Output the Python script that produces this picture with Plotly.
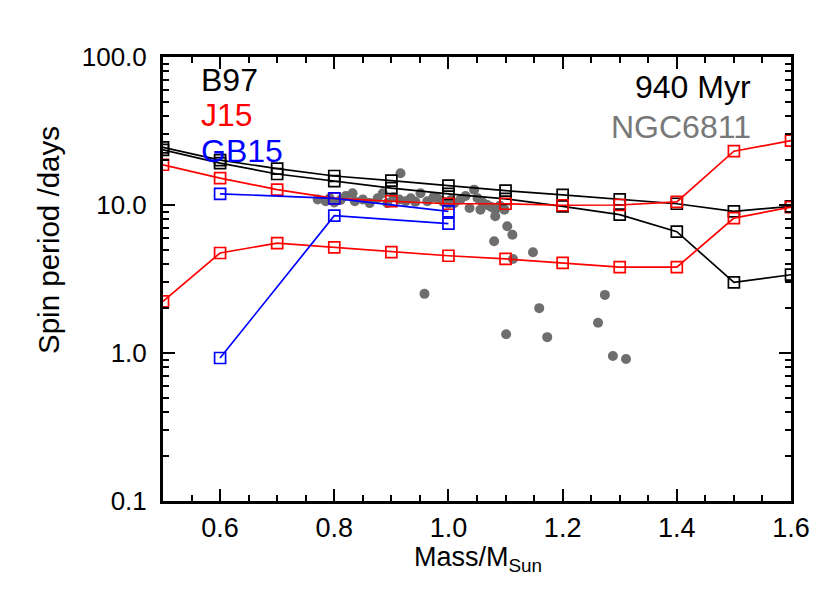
import plotly.graph_objects as go

# ---------------- data ----------------
mass_grid = [0.5, 0.6, 0.7, 0.8, 0.9, 1.0, 1.1, 1.2, 1.3, 1.4, 1.5, 1.6]
b97_upper = [24.5, 20.1, 17.6, 15.7, 14.6, 13.5, 12.5, 11.7, 10.9, 10.2, 9.06, 9.8]
b97_lower = [23.6, 19.2, 16.2, 14.5, 13.0, 11.9, 11.0, 9.8, 8.6, 6.6, 3.0, 3.38]
j15_upper = [18.7, 15.2, 12.7, 11.1, 10.6, 10.2, 10.2, 9.96, 10.0, 10.5, 23.1, 27.2]
j15_lower = [2.23, 4.74, 5.53, 5.17, 4.81, 4.54, 4.32, 4.06, 3.80, 3.80, 8.16, 9.68]
gb15_mass = [0.6, 0.8, 1.0]
gb15_upper = [11.9, 11.1, 9.06]
gb15_lower = [0.925, 8.47, 7.48]

ngc_mass = [0.771, 0.785, 0.792, 0.800, 0.811, 0.820, 0.832, 0.836, 0.850, 0.862,
            0.876, 0.885, 0.893, 0.904, 0.914, 0.916, 0.925, 0.934, 0.942, 0.951,
            0.963, 0.974, 0.981, 0.991, 1.000, 1.004, 1.010, 1.021, 1.030, 1.037,
            1.045, 1.051, 1.056, 1.060, 1.068, 1.075, 1.082, 1.082, 1.090, 1.098,
            1.103, 1.112, 1.080, 1.113, 1.148, 0.958, 1.159, 1.274, 1.101, 1.173,
            1.262, 1.288, 1.311]
ngc_period = [10.9, 10.6, 11.1, 10.4, 10.8, 11.5, 12.0, 10.6, 10.9, 10.3,
              11.1, 12.0, 10.3, 11.3, 10.9, 16.4, 10.6, 11.1, 10.5, 12.0,
              10.6, 11.3, 11.1, 10.5, 10.2, 10.8, 10.3, 10.9, 11.5, 9.55,
              12.7, 11.1, 9.3, 10.4, 10.0, 9.7, 9.3, 8.4, 9.9, 9.3,
              7.18, 6.3, 5.69, 4.32, 4.79, 2.51, 2.01, 2.47, 1.34, 1.28,
              1.60, 0.955, 0.91]

y_tickvals = [0.1, 1, 10, 100]
y_ticktext = ["0.1", "1.0", "10.0", "100.0"]
x_tickvals = [0.6, 0.8, 1.0, 1.2, 1.4, 1.6]
x_ticktext = ["0.6", "0.8", "1.0", "1.2", "1.4", "1.6"]

# ---------------- figure ----------------
FONT = "Liberation Sans, Arial, sans-serif"
fig = go.Figure()

fig.add_trace(go.Scatter(x=ngc_mass, y=ngc_period, mode="markers",
                         marker=dict(symbol="circle", size=10, color="rgb(110,110,110)"),
                         showlegend=False))

sq = dict(symbol="square-open", size=11, line=dict(width=1.7))
for ys, col in [(b97_upper, "black"), (b97_lower, "black"),
                (j15_upper, "red"), (j15_lower, "red")]:
    fig.add_trace(go.Scatter(x=mass_grid, y=ys, mode="lines+markers",
                             line=dict(color=col, width=1.7),
                             marker=dict(color=col, **sq), showlegend=False))
for ys in [gb15_upper, gb15_lower]:
    fig.add_trace(go.Scatter(x=gb15_mass, y=ys, mode="lines+markers",
                             line=dict(color="blue", width=1.7),
                             marker=dict(color="blue", **sq), showlegend=False))

minor_y = [m * 10 ** e for e in (-1, 0, 1) for m in range(2, 10)]

fig.update_xaxes(range=[0.5, 1.6], tickmode="array", tickvals=x_tickvals,
                 ticktext=x_ticktext, ticks="inside", ticklen=12, tickwidth=2,
                 tickcolor="black", showline=True, linewidth=3, linecolor="black",
                 mirror="allticks", showgrid=False, zeroline=False,
                 tickfont=dict(size=27, color="black", family=FONT),
                 ticklabelstandoff=1,
                 minor=dict(tickmode="linear", tick0=0.5, dtick=0.05, ticks="inside",
                            ticklen=6, tickwidth=2, tickcolor="black", showgrid=False))
fig.update_yaxes(type="log", range=[-1, 2], tickmode="array", tickvals=y_tickvals,
                 ticktext=y_ticktext, ticks="inside", ticklen=12, tickwidth=2,
                 tickcolor="black", showline=True, linewidth=3, linecolor="black",
                 mirror="allticks", showgrid=False, zeroline=False,
                 tickfont=dict(size=26, color="black", family=FONT),
                 ticklabelstandoff=8,
                 minor=dict(tickmode="array", tickvals=minor_y, ticks="inside",
                            ticklen=6, tickwidth=2, tickcolor="black", showgrid=False))

L, R, T, B = 155, 47, 49, 100
W, H = 830, 593
pw, ph = W - L - R, H - T - B

def px(xp):
    return (xp - L) / pw

def py(yp):
    return (H - B - yp) / ph

anns = [
    dict(text="B97", x=px(191), y=py(72), xanchor="left", color="black"),
    dict(text="J15", x=px(191), y=py(107), xanchor="left", color="red"),
    dict(text="GB15", x=px(191), y=py(143), xanchor="left", color="blue"),
    dict(text="940 Myr", x=px(745), y=py(79), xanchor="right", color="black"),
    dict(text="NGC6811", x=px(745), y=py(119), xanchor="right", color="rgb(120,120,120)"),
]
for a in anns:
    fig.add_annotation(text=a["text"], x=a["x"], y=a["y"], xref="paper", yref="paper",
                       xanchor=a["xanchor"], yanchor="middle", showarrow=False,
                       font=dict(size=32, color=a["color"], family=FONT))

fig.add_annotation(text="Spin period /days", x=px(40), y=py(232), xref="paper", yref="paper",
                   textangle=-90, showarrow=False, xanchor="center", yanchor="middle",
                   font=dict(size=29.5, color="black", family=FONT))
fig.add_annotation(text="Mass/M<sub>Sun</sub>", x=px(470), y=py(551), xref="paper", yref="paper",
                   showarrow=False, xanchor="center", yanchor="middle",
                   font=dict(size=27, color="black", family=FONT))

fig.update_layout(width=W, height=H, margin=dict(l=L, r=R, t=T, b=B),
                  paper_bgcolor="white", plot_bgcolor="white", showlegend=False)

fig.write_html("out.html")
